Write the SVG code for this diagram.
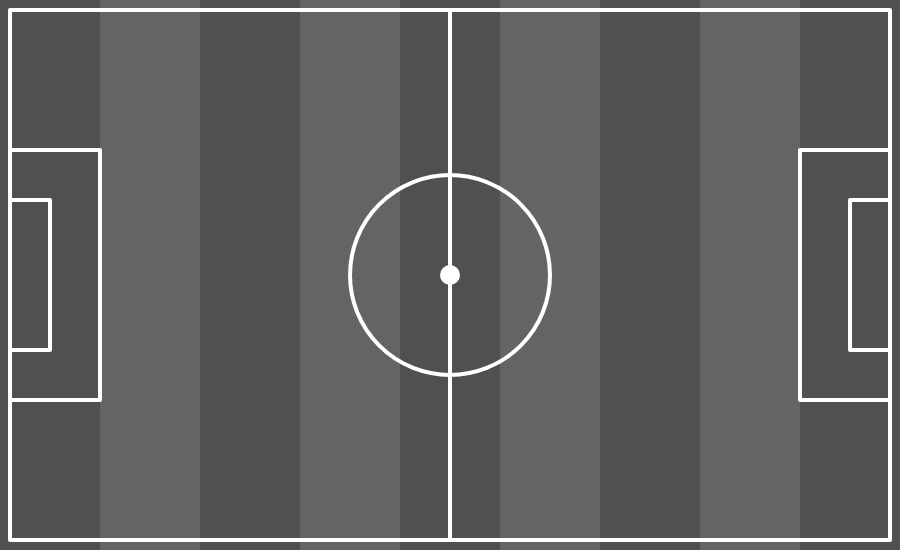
<svg xmlns="http://www.w3.org/2000/svg" width="900" height="550" viewBox="0 0 900 550">
<style>
.d{fill:#505050}.l{fill:#646464}
.ln{fill:none;stroke:#ffffff;stroke-width:4;stroke-linejoin:round}
</style>
<g id="stripes">
<rect class="d" x="0" y="0" width="100" height="550"/>
<rect class="l" x="100" y="0" width="100" height="550"/>
<rect class="d" x="200" y="0" width="100" height="550"/>
<rect class="l" x="300" y="0" width="100" height="550"/>
<rect class="d" x="400" y="0" width="100" height="550"/>
<rect class="l" x="500" y="0" width="100" height="550"/>
<rect class="d" x="600" y="0" width="100" height="550"/>
<rect class="l" x="700" y="0" width="100" height="550"/>
<rect class="d" x="800" y="0" width="100" height="550"/>
</g>
<g id="lines">
<rect class="ln" x="10" y="10" width="880" height="530"/>
<line class="ln" x1="450" y1="10" x2="450" y2="540"/>
<circle class="ln" cx="450" cy="275" r="100"/>
<circle cx="450" cy="275" r="10" fill="#ffffff"/>
<polyline class="ln" points="10,150 100,150 100,400 10,400"/>
<polyline class="ln" points="10,200 50,200 50,350 10,350"/>
<polyline class="ln" points="890,150 800,150 800,400 890,400"/>
<polyline class="ln" points="890,200 850,200 850,350 890,350"/>
</g>
</svg>
